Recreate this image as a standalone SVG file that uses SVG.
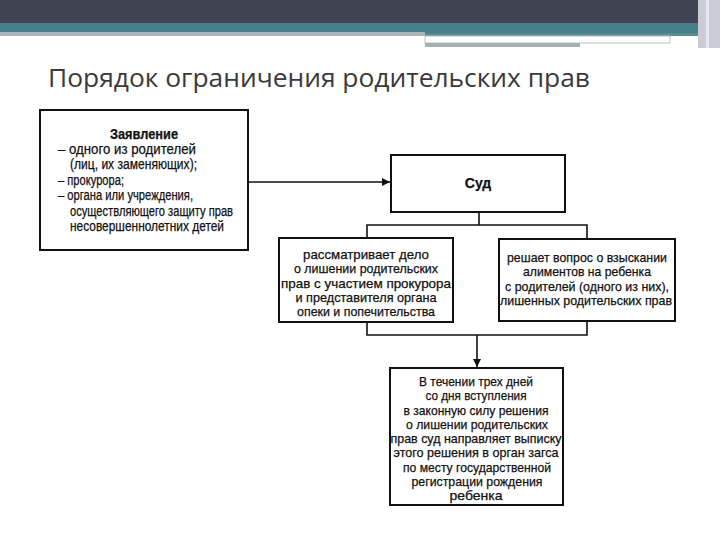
<svg xmlns="http://www.w3.org/2000/svg" width="720" height="540" viewBox="0 0 720 540">
<style>
.box{fill:#fff;stroke:#111;stroke-width:2}
.ln{fill:none;stroke:#111;stroke-width:1.6}
.t{font-family:"Liberation Sans",Arial,sans-serif;font-size:13px;fill:#111;stroke:#111;stroke-width:0.25}
.l{font-size:14px}
.c{text-anchor:middle}
.b{font-weight:bold}
.title{font-family:"Open Sans","Noto Sans","DejaVu Sans",sans-serif;font-size:25px;fill:#3a3a3a}
</style>
<defs>
<marker id="ah" viewBox="0 0 10 10" refX="10" refY="5" markerWidth="10" markerHeight="8" markerUnits="userSpaceOnUse" orient="auto">
<path d="M0,0 L10,5 L0,10 z" fill="#111"/>
</marker>
</defs>
<rect width="720" height="540" fill="#fff"/>
<g id="header">
<rect x="0" y="0" width="720" height="23" fill="#3f4352"/>
<rect x="0" y="20" width="720" height="3" fill="#49435a"/>
<rect x="0" y="23" width="720" height="10" fill="#44808a"/>
<rect x="0" y="32" width="425" height="4" fill="#a9b7bc"/>
<rect x="425" y="33" width="275" height="3" fill="#5a8a90"/>
<rect x="425" y="36" width="245" height="7" fill="#fff" stroke="#b5c3c5" stroke-width="1"/>
<rect x="425" y="43" width="155" height="4" fill="#a3b1b3"/>
<rect x="698" y="0" width="22" height="48" fill="#c9ccd4"/>
<rect x="706" y="0" width="3" height="48" fill="#e6e8ec"/>
</g>
<text class="title" x="48" y="87" textLength="542" lengthAdjust="spacingAndGlyphs">Порядок ограничения родительских прав</text>
<g id="connectors">
<line class="ln" x1="248" y1="182" x2="390" y2="182" marker-end="url(#ah)"/>
<polyline class="ln" points="479,212 479,225"/>
<polyline class="ln" points="367,238 367,225 587,225 587,239"/>
<polyline class="ln" points="367,322 367,335 587,335 587,321"/>
<line class="ln" x1="477" y1="335" x2="477" y2="367" marker-end="url(#ah)"/>
</g>
<g id="zayavlenie">
<rect class="box" x="40" y="110" width="208" height="140"/>
<text class="t l b c" x="144" y="139" textLength="68" lengthAdjust="spacingAndGlyphs">Заявление</text>
<text class="t l" x="58" y="154" textLength="138" lengthAdjust="spacingAndGlyphs">– одного из родителей</text>
<text class="t l" x="70" y="169" textLength="127" lengthAdjust="spacingAndGlyphs">(лиц, их заменяющих);</text>
<text class="t l" x="58" y="185" textLength="66" lengthAdjust="spacingAndGlyphs">– прокурора;</text>
<text class="t l" x="58" y="200" textLength="135" lengthAdjust="spacingAndGlyphs">– органа или учреждения,</text>
<text class="t l" x="70" y="216" textLength="163" lengthAdjust="spacingAndGlyphs">осуществляющего защиту прав</text>
<text class="t l" x="70" y="231" textLength="154" lengthAdjust="spacingAndGlyphs">несовершеннолетних детей</text>
</g>
<g id="sud">
<rect class="box" x="391" y="155" width="174" height="57"/>
<text class="t l b c" x="478" y="188">Суд</text>
</g>
<g id="rassmatrivaet">
<rect class="box" x="279" y="238" width="174" height="84"/>
<text class="t c" x="366" y="259" textLength="126" lengthAdjust="spacingAndGlyphs">рассматривает дело</text>
<text class="t c" x="366" y="273" textLength="144" lengthAdjust="spacingAndGlyphs">о лишении родительских</text>
<text class="t c" x="366" y="288" textLength="170" lengthAdjust="spacingAndGlyphs">прав с участием прокурора</text>
<text class="t c" x="366" y="302" textLength="141" lengthAdjust="spacingAndGlyphs">и представителя органа</text>
<text class="t c" x="366" y="316" textLength="138" lengthAdjust="spacingAndGlyphs">опеки и попечительства</text>
</g>
<g id="reshaet">
<rect class="box" x="499" y="239" width="176" height="82"/>
<text class="t c" x="587" y="262" textLength="160" lengthAdjust="spacingAndGlyphs">решает вопрос о взыскании</text>
<text class="t c" x="587" y="276" textLength="128" lengthAdjust="spacingAndGlyphs">алиментов на ребенка</text>
<text class="t c" x="587" y="291" textLength="164" lengthAdjust="spacingAndGlyphs">с родителей (одного из них),</text>
<text class="t c" x="586" y="305" textLength="172" lengthAdjust="spacingAndGlyphs">лишенных родительских прав</text>
</g>
<g id="vypiska">
<rect class="box" x="390" y="368" width="173" height="137"/>
<text class="t c" x="476" y="386" textLength="114" lengthAdjust="spacingAndGlyphs">В течении трех дней</text>
<text class="t c" x="476" y="400" textLength="101" lengthAdjust="spacingAndGlyphs">со дня вступления</text>
<text class="t c" x="476" y="415" textLength="145" lengthAdjust="spacingAndGlyphs">в законную силу решения</text>
<text class="t c" x="477" y="429" textLength="142" lengthAdjust="spacingAndGlyphs">о лишении родительских</text>
<text class="t c" x="476" y="443" textLength="171" lengthAdjust="spacingAndGlyphs">прав суд направляет выписку</text>
<text class="t c" x="476" y="457" textLength="165" lengthAdjust="spacingAndGlyphs">этого решения в орган загса</text>
<text class="t c" x="477" y="472" textLength="148" lengthAdjust="spacingAndGlyphs">по месту государственной</text>
<text class="t c" x="477" y="486" textLength="131" lengthAdjust="spacingAndGlyphs">регистрации рождения</text>
<text class="t c" x="476" y="500" textLength="53" lengthAdjust="spacingAndGlyphs">ребенка</text>
</g>
</svg>
